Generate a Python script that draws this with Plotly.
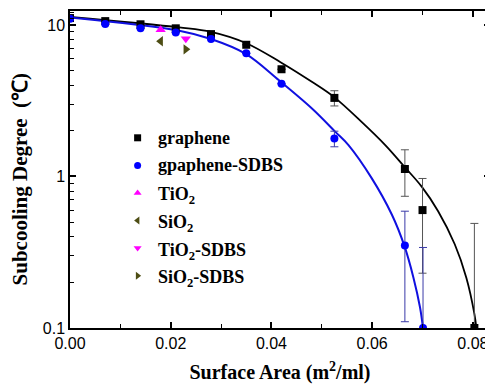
import plotly.graph_objects as go

# ---- data ----
graphene_x = [0.0, 0.007, 0.014, 0.021, 0.028, 0.035, 0.042, 0.0525, 0.0665, 0.0700, 0.0803]
graphene_y = [11.1, 10.6, 10.1, 9.5, 8.7, 7.4, 5.1, 3.3, 1.12, 0.60, 0.10]
graphene_err = [0, 0, 0, 0, 0, 0, 0, 0.38, 0.38, 0.37, 0.39]

gsdbs_x = [0.0, 0.007, 0.014, 0.021, 0.028, 0.035, 0.042, 0.0525, 0.0665, 0.0701]
gsdbs_y = [11.0, 10.15, 9.5, 8.9, 8.07, 6.5, 4.09, 1.78, 0.35, 0.10]
gsdbs_err = [0, 0, 0, 0, 0, 0, 0, 0.21, 0.24, 0.24]

tio2_x = [0.018]
tio2_y = [9.3]
sio2_x = [0.018]
sio2_y = [7.8]
tio2_sdbs_x = [0.023]
tio2_sdbs_y = [8.1]
sio2_sdbs_x = [0.023]
sio2_sdbs_y = [6.9]

# fitted curves
fit_black_x = [0.0, 0.0217, 0.028, 0.0349, 0.0418, 0.0481, 0.0524, 0.0579, 0.0626, 0.0664, 0.0698,
               0.0731, 0.0764, 0.0787, 0.0803, 0.0807]
fit_black_y = [11.28, 9.63, 9.0, 7.6, 5.68, 4.2, 3.35, 2.29, 1.61, 1.16, 0.86,
               0.59, 0.357, 0.215, 0.124, 0.1]
fit_blue_x = [0.0, 0.0217, 0.028, 0.0349, 0.0415, 0.0481, 0.0527, 0.0553, 0.0599, 0.0639, 0.0664,
              0.0682, 0.0695, 0.0701]
fit_blue_y = [11.2, 9.16, 8.07, 6.44, 4.31, 2.8, 1.97, 1.61, 0.975, 0.561, 0.348,
              0.215, 0.137, 0.1]

legend_names = ["graphene", "gpaphene-SDBS", "TiO<sub>2</sub>", "SiO<sub>2</sub>",
                "TiO<sub>2</sub>-SDBS", "SiO<sub>2</sub>-SDBS"]
legend_symbols = ["square", "circle", "triangle-up", "triangle-left", "triangle-down", "triangle-right"]
legend_colors = ["black", "#0000ff", "#ff00ff", "#4d4d14", "#ff00ff", "#4d4d14"]

x_ticks = [0.0, 0.02, 0.04, 0.06, 0.08]
x_ticktext = ["0.00", "0.02", "0.04", "0.06", "0.08"]
x_minor = [0.01, 0.03, 0.05, 0.07]
y_ticks = [0.1, 1, 10]
y_ticktext = ["0.1", "1", "10"]
y_minor = [0.2, 0.3, 0.4, 0.5, 0.6, 0.7, 0.8, 0.9, 2, 3, 4, 5, 6, 7, 8, 9, 11, 12]

SERIF = "Liberation Serif, Times New Roman"

fig = go.Figure()
fig.add_trace(go.Scatter(x=fit_black_x, y=fit_black_y, mode="lines",
                         line=dict(color="black", width=1.8, shape="spline", smoothing=1.0),
                         showlegend=False, hoverinfo="skip"))
fig.add_trace(go.Scatter(x=fit_blue_x, y=fit_blue_y, mode="lines",
                         line=dict(color="#1010e0", width=2, shape="spline", smoothing=1.0),
                         showlegend=False, hoverinfo="skip"))
fig.add_trace(go.Scatter(x=graphene_x, y=graphene_y, mode="markers", name="graphene", showlegend=False,
                         marker=dict(symbol="square", size=8, color=legend_colors[0]),
                         error_y=dict(type="data", array=graphene_err, color="#555555", thickness=1, width=4)))
fig.add_trace(go.Scatter(x=gsdbs_x, y=gsdbs_y, mode="markers", name="gpaphene-SDBS", showlegend=False,
                         marker=dict(symbol="circle", size=8, color=legend_colors[1]),
                         error_y=dict(type="data", array=gsdbs_err, color="#3a3aa8", thickness=1, width=4)))
fig.add_trace(go.Scatter(x=tio2_x, y=tio2_y, mode="markers", name="TiO2", showlegend=False,
                         marker=dict(symbol="triangle-up", size=9, color=legend_colors[2])))
fig.add_trace(go.Scatter(x=sio2_x, y=sio2_y, mode="markers", name="SiO2", showlegend=False,
                         marker=dict(symbol="triangle-left", size=9, color=legend_colors[3])))
fig.add_trace(go.Scatter(x=tio2_sdbs_x, y=tio2_sdbs_y, mode="markers", name="TiO2-SDBS", showlegend=False,
                         marker=dict(symbol="triangle-down", size=9, color=legend_colors[4])))
fig.add_trace(go.Scatter(x=sio2_sdbs_x, y=sio2_sdbs_y, mode="markers", name="SiO2-SDBS", showlegend=False,
                         marker=dict(symbol="triangle-right", size=9, color=legend_colors[5])))

# hand-placed legend (markers on an overlay axis in 0..1 units, labels as annotations)
legend_row_y = [0.6, 0.513, 0.426, 0.339, 0.252, 0.165]
fig.add_trace(go.Scatter(x=[0.161] * len(legend_names), y=legend_row_y, xaxis="x2", yaxis="y2",
                         mode="markers", showlegend=False, hoverinfo="skip",
                         marker=dict(symbol=legend_symbols, color=legend_colors, size=7)))
for name, ry in zip(legend_names, legend_row_y):
    fig.add_annotation(x=0.205, y=ry, xref="x2", yref="y2", text=name, showarrow=False,
                       xanchor="left", yanchor="middle",
                       yshift=-3 if "<sub>" in name else 0,
                       font=dict(family=SERIF, size=18, color="black", weight="bold"))

# y-axis title
fig.add_annotation(x=-0.118, y=0.47, xref="paper", yref="paper", text="Subcooling Degree  (℃)",
                   textangle=-90, showarrow=False, xanchor="center", yanchor="middle",
                   font=dict(family=SERIF, size=21, color="black", weight="bold"))

axis_common = dict(showline=True, linecolor="black", linewidth=1.5, mirror="ticks", ticks="inside",
                   ticklen=6, tickwidth=1.5, tickcolor="black", showgrid=False, zeroline=False,
                   tickfont=dict(family="Liberation Sans, Arial", size=16, color="black"))

# the page body adds an 8px offset, so the figure is 8px smaller and shifted accordingly
fig.update_layout(
    width=485, height=379,
    margin=dict(l=62, r=1, t=1, b=59),
    paper_bgcolor="white", plot_bgcolor="white",
    showlegend=False,
    xaxis=dict(range=[0, 0.0834], tickmode="array", tickvals=x_ticks, ticktext=x_ticktext,
               minor=dict(tickmode="array", tickvals=x_minor, ticks="inside", ticklen=4, tickwidth=1.2, tickcolor="black"),
               title=dict(text="Surface Area (m<sup>2</sup>/ml)", standoff=14,
                          font=dict(family=SERIF, size=20, color="black", weight="bold")),
               **axis_common),
    yaxis=dict(type="log", range=[-1, 1.092], tickmode="array", tickvals=y_ticks, ticktext=y_ticktext,
               minor=dict(tickmode="array", tickvals=y_minor, ticks="inside", ticklen=4, tickwidth=1.2, tickcolor="black"),
               **axis_common),
    xaxis2=dict(range=[0, 1], overlaying="x", visible=False),
    yaxis2=dict(range=[0, 1], overlaying="y", visible=False),
)

fig.write_html("out.html")
